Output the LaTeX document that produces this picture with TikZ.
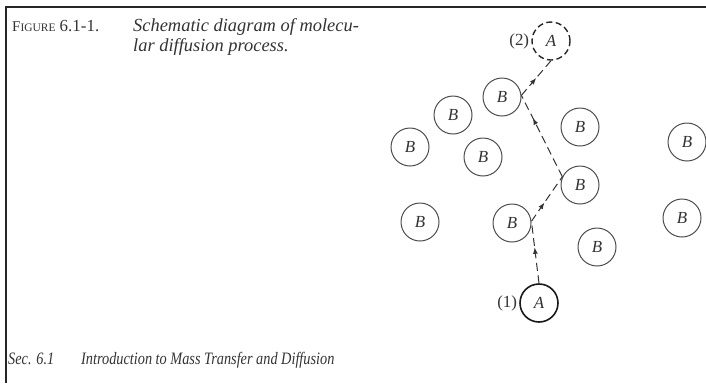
\documentclass[tikz,border=0pt]{standalone}
\usepackage{fontspec}
\setmainfont{Liberation Serif}
\newfontfamily\condfont[FakeStretch=0.82]{Liberation Serif}
\usetikzlibrary{positioning,decorations.markings,arrows.meta}

\begin{document}
\begin{tikzpicture}[
    x=1bp, y=-1bp,
    every node/.style={text=black!80, font=\fontsize{17}{19}\selectfont},
    mol/.style={circle, draw=black!70, line width=1bp, minimum size=38bp, inner sep=0pt},
    solute/.style={mol, draw=black!90, line width=1.6bp},
    txt/.style={anchor=base west, inner sep=0pt},
    hop/.style={draw=black!80, dash pattern=on 8bp off 4.5bp, line width=1bp,
        postaction={decorate},
        decoration={markings, mark=at position #1 with {\arrow{Latex[length=6.5bp,width=5bp]}}}}
]
\useasboundingbox (0,0) rectangle (706,383);

% ================= frame =================

\draw[line width=2bp, black!85] (706,7) -- (5.5,7) -- (5.5,383);

% ================= caption =================

\node[txt] (fig) at (12,31) {{\fontsize{15}{18}\selectfont F}{\fontsize{11.5}{18}\selectfont IGURE} 6.1-1.};
\node[txt, font=\fontsize{18.5}{20}\selectfont\itshape] (cap1) at (133,31) {Schematic diagram of molecu-};
\node[txt, font=\fontsize{18.5}{20}\selectfont\itshape] (cap2) at (133,51) {lar diffusion process.};

% ================= molecules B =================

\node[mol] (b1) at (502,97) {\textit{B}};
\node[mol] (b2) at (453,115) {\textit{B}};
\node[mol] (b3) at (410,147) {\textit{B}};
\node[mol] (b4) at (483,157) {\textit{B}};
\node[mol] (b5) at (580,127) {\textit{B}};
\node[mol] (b6) at (687,142) {\textit{B}};
\node[mol] (b7) at (580,185) {\textit{B}};
\node[mol] (b8) at (420,222) {\textit{B}};
\node[mol] (b9) at (512,223) {\textit{B}};
\node[mol] (b10) at (597,247) {\textit{B}};
\node[mol] (b11) at (682,218) {\textit{B}};

% ================= molecule A, start and end =================

\node[solute] (a1) at (539,303) {\textit{A}};
\node[mol, draw=black!85, line width=1.4bp, dash pattern=on 6bp off 3.5bp] (a2) at (551,41) {\textit{A}};

\node[left=1bp of a1, inner sep=1bp] (lab1) {(1)};
\node[left=1bp of a2, inner sep=1bp] (lab2) {(2)};

% ================= path of A =================

\draw[hop=0.58] (a1.north) -- (b9.5);
\draw[hop=0.42] (b9.5) -- (b7.155);
\draw[hop=0.72] (b7.155) -- (b1.5);
\draw[hop=0.5] (b1.5) -- (a2.south);

% ================= footer =================

\node[txt, font=\fontsize{17.5}{20}\selectfont\condfont\itshape] (sec) at (8,364) {Sec. 6.1};
\node[txt, font=\fontsize{17.5}{20}\selectfont\condfont\itshape] (intro) at (81,364) {Introduction to Mass Transfer and Diffusion};

\end{tikzpicture}
\end{document}
